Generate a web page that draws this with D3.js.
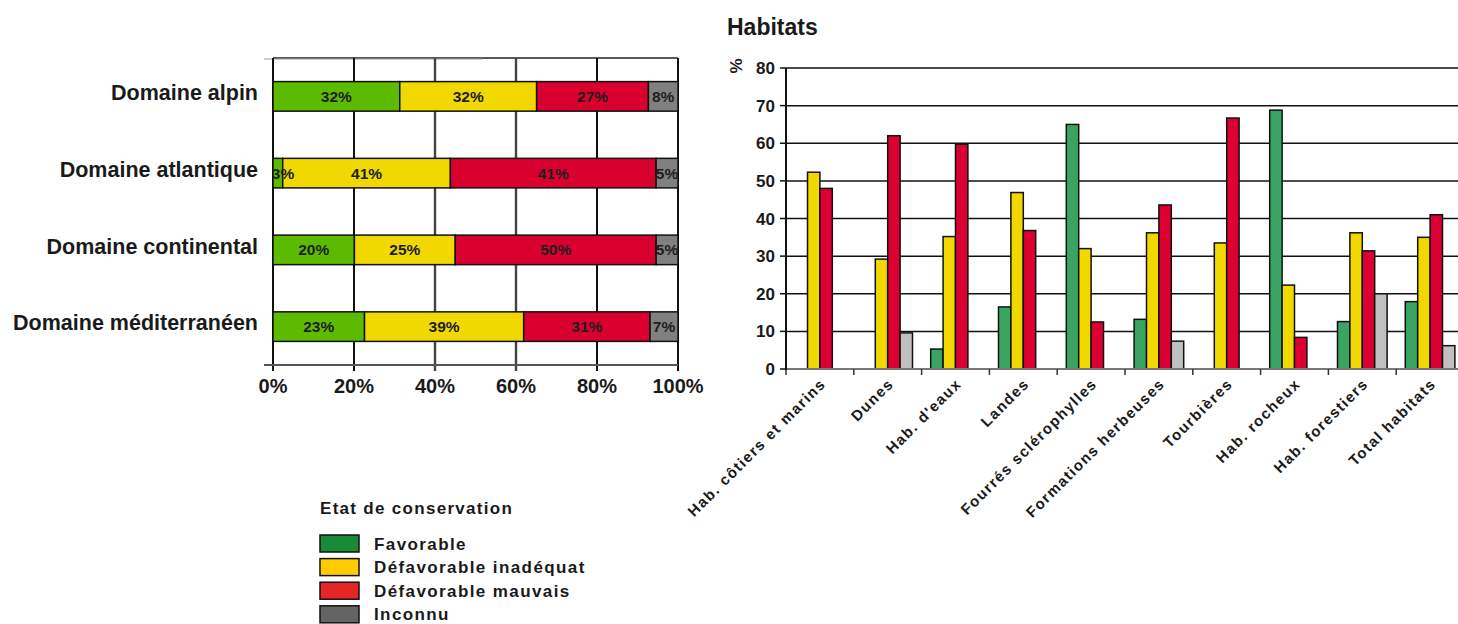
<!DOCTYPE html>
<html>
<head>
<meta charset="utf-8">
<script src="https://cdn.jsdelivr.net/npm/d3@7"></script>
<style>
html,body{margin:0;padding:0;background:#fff;}
svg{display:block;}
text{font-family:"Liberation Sans",Arial,Helvetica,sans-serif;font-weight:bold;fill:#1a1a1a;}
</style>
</head>
<body>
<svg id="chart" width="1458" height="624"></svg>
<script>
// ---------- DATA ----------
const statusKeys = ["Favorable", "Défavorable inadéquat", "Défavorable mauvais", "Inconnu"];

// Left chart: stacked 100% bars per biogeographic domain
const domains = ["Domaine alpin", "Domaine atlantique", "Domaine continental", "Domaine méditerranéen"];
const domFavorable = [31.3, 2.4, 20.1, 22.6];
const domInadequat = [33.8, 41.4, 24.9, 39.3];
const domMauvais   = [27.6, 50.8, 49.6, 31.2];
const domInconnu   = [7.3, 5.4, 5.4, 6.9];
// segment labels as printed
const lblFavorable = ["32%", "3%", "20%", "23%"];
const lblInadequat = ["32%", "41%", "25%", "39%"];
const lblMauvais   = ["27%", "41%", "50%", "31%"];
const lblInconnu   = ["8%", "5%", "5%", "7%"];
const domTicks = [0, 20, 40, 60, 80, 100];

// Right chart: grouped bars per habitat type (%)
const habTitle = "Habitats";
const habitats = ["Hab. côtiers et marins", "Dunes", "Hab. d'eaux", "Landes", "Fourrés sclérophylles",
                  "Formations herbeuses", "Tourbières", "Hab. rocheux", "Hab. forestiers", "Total habitats"];
const habFavorable = [0, 0, 5.3, 16.5, 65, 13.2, 0, 68.8, 12.6, 17.9];
const habInadequat = [52.3, 29.2, 35.2, 46.9, 32, 36.2, 33.5, 22.3, 36.2, 35];
const habMauvais   = [48, 62, 59.7, 36.8, 12.5, 43.6, 66.7, 8.4, 31.4, 41];
const habInconnu   = [0, 9.6, 0, 0, 0, 7.4, 0, 0, 20, 6.2];
const habTicks = [0, 10, 20, 30, 40, 50, 60, 70, 80];

const legendTitle = "Etat de conservation";

// ---------- STYLE ----------
const leftColors  = ["#5cbb00", "#f0d800", "#d9002f", "#808080"];
const rightColors = ["#3aa562", "#f0d800", "#dc0032", "#c0c0c0"];
const legendColors = ["#1b8a38", "#ffcc00", "#e52526", "#646464"];

const svg = d3.select("#chart");

// ---------- LEFT CHART ----------
(function(){
  const x0 = 273, x1 = 678, yTop = 58, yBot = 365;
  const x = d3.scaleLinear().domain([0, 100]).range([x0, x1]);
  const y = d3.scaleBand().domain(domains).range([yTop, yBot]).paddingInner(0.615).paddingOuter(0.3075);
  const g = svg.append("g");

  // frame / grid
  g.append("line").attr("x1", x0).attr("x2", x1).attr("y1", yTop).attr("y2", yTop)
    .attr("stroke", "#222").attr("stroke-width", 1.5);
  g.append("line").attr("x1", 264).attr("x2", 482).attr("y1", yTop + 1).attr("y2", yTop + 1)
    .attr("stroke", "#999").attr("stroke-width", 1);
  g.selectAll(".vg").data(domTicks).join("line")
    .attr("x1", d => x(d)).attr("x2", d => x(d))
    .attr("y1", yTop).attr("y2", yBot + 6)
    .attr("stroke", (d, i) => (d === 40 || d === 60) ? "#444" : "#111")
    .attr("stroke-width", (d) => (d === 40 || d === 60) ? 2.4 : 2);
  g.append("line").attr("x1", 264).attr("x2", x1).attr("y1", yBot).attr("y2", yBot)
    .attr("stroke", "#555").attr("stroke-width", 2);

  const vals = [domFavorable, domInadequat, domMauvais, domInconnu];
  const lbls = [lblFavorable, lblInadequat, lblMauvais, lblInconnu];
  const stackData = domains.map((d, i) => {
    const o = {dom: d};
    statusKeys.forEach((k, j) => o[k] = vals[j][i]);
    return o;
  });
  const series = d3.stack().keys(statusKeys)(stackData);

  series.forEach((s, j) => {
    g.selectAll(".seg" + j).data(s).join("rect")
      .attr("x", d => x(d[0])).attr("width", d => x(d[1]) - x(d[0]))
      .attr("y", d => y(d.data.dom)).attr("height", y.bandwidth())
      .attr("fill", leftColors[j]).attr("stroke", "#111").attr("stroke-width", 1.5);
  });
  series.forEach((s, j) => {
    g.selectAll(".lab" + j).data(s).join("text")
      .attr("x", d => Math.max((x(d[0]) + x(d[1])) / 2, x0 + 10))
      .attr("y", d => y(d.data.dom) + y.bandwidth() / 2)
      .attr("dy", "0.36em")
      .attr("text-anchor", "middle")
      .style("font-size", "15.5px")
      .style("fill", "#1e1e1e")
      .text((d, i) => lbls[j][i]);
  });

  // category labels
  g.selectAll(".cat").data(domains).join("text")
    .attr("x", 258).attr("y", d => y(d) + y.bandwidth() / 2)
    .attr("dy", "0.18em")
    .attr("text-anchor", "end")
    .style("font-size", "21.5px")
    .text(d => d);

  // tick labels
  g.selectAll(".tk").data(domTicks).join("text")
    .attr("x", d => x(d)).attr("y", 393)
    .attr("text-anchor", "middle")
    .style("font-size", "20px")
    .text(d => d + "%");
})();

// ---------- RIGHT CHART ----------
(function(){
  const xl = 786, xr = 1464, y0 = 369, y80 = 68;
  const x = d3.scaleBand().domain(habitats).range([xl, xr]);
  const xs = d3.scaleBand().domain(statusKeys).range([9.1, 58.7]);
  const y = d3.scaleLinear().domain([0, 80]).range([y0, y80]);
  const g = svg.append("g");

  svg.append("text").attr("x", 727).attr("y", 35).style("font-size", "23px").text(habTitle);

  // grid
  g.selectAll(".hg").data(habTicks.filter(d => d > 0)).join("line")
    .attr("x1", xl).attr("x2", 1458).attr("y1", d => y(d)).attr("y2", d => y(d))
    .attr("stroke", "#111").attr("stroke-width", 1.5);

  const vals = [habFavorable, habInadequat, habMauvais, habInconnu];
  const flat = [];
  habitats.forEach((h, i) => statusKeys.forEach((k, j) => {
    if (vals[j][i] > 0) flat.push({h, k, j, v: vals[j][i]});
  }));
  g.selectAll(".bar").data(flat).join("rect")
    .attr("x", d => x(d.h) + xs(d.k)).attr("width", xs.bandwidth())
    .attr("y", d => y(d.v)).attr("height", d => y(0) - y(d.v))
    .attr("fill", d => rightColors[d.j]).attr("stroke", "#111").attr("stroke-width", 1.5);

  // x axis line + ticks
  g.append("line").attr("x1", xl).attr("x2", 1458).attr("y1", y0).attr("y2", y0)
    .attr("stroke", "#777").attr("stroke-width", 2);
  const bounds = habitats.map(h => x(h)).concat([xr]);
  g.selectAll(".xt").data(bounds).join("line")
    .attr("x1", d => d).attr("x2", d => d).attr("y1", y0).attr("y2", y0 + 6)
    .attr("stroke", "#333").attr("stroke-width", 1.5);

  // y axis
  g.append("line").attr("x1", xl).attr("x2", xl).attr("y1", y80).attr("y2", y0 + 1)
    .attr("stroke", "#111").attr("stroke-width", 2);
  g.selectAll(".yt").data(habTicks).join("line")
    .attr("x1", xl - 6).attr("x2", xl).attr("y1", d => y(d)).attr("y2", d => y(d))
    .attr("stroke", "#111").attr("stroke-width", 1.5);
  g.selectAll(".ytl").data(habTicks).join("text")
    .attr("x", 775).attr("y", d => y(d)).attr("dy", "0.36em")
    .attr("text-anchor", "end").style("font-size", "17px")
    .text(d => d);
  g.append("text").attr("transform", "translate(742,66) rotate(-90)")
    .attr("text-anchor", "middle").style("font-size", "17px").text("%");

  // rotated category labels
  g.selectAll(".xl").data(habitats).join("text")
    .attr("transform", d => `translate(${x(d) + x.bandwidth() / 2 + 3},${y0 + 12}) rotate(-45)`)
    .attr("text-anchor", "end").attr("dy", "0.36em")
    .style("font-size", "15px").style("letter-spacing", "1.4px")
    .text(d => d);
})();

// ---------- LEGEND ----------
(function(){
  const g = svg.append("g");
  g.append("text").attr("x", 320).attr("y", 514)
    .style("font-size", "17px").style("letter-spacing", "1.3px").text(legendTitle);
  const item = g.selectAll(".li").data(statusKeys).join("g")
    .attr("transform", (d, i) => `translate(0,${535 + i * 23.6})`);
  item.append("rect").attr("x", 320).attr("y", 0).attr("width", 39).attr("height", 17)
    .attr("fill", (d, i) => legendColors[i]).attr("stroke", "#111").attr("stroke-width", 1.5);
  item.append("text").attr("x", 374).attr("y", 14.5)
    .style("font-size", "17px").style("letter-spacing", "1.4px").text(d => d);
})();
</script>
</body>
</html>
